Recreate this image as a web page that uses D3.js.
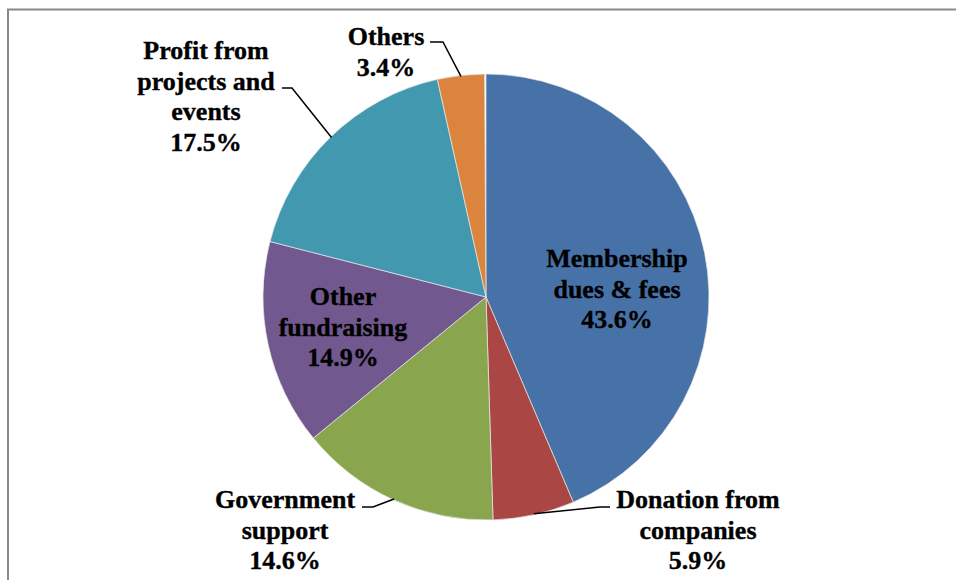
<!DOCTYPE html>
<html>
<head>
<meta charset="utf-8">
<script src="https://cdn.jsdelivr.net/npm/d3@7"></script>
<style>
  html, body { margin: 0; padding: 0; background: #fff; }
  svg { display: block; }
</style>
</head>
<body>
<svg id="chart" width="956" height="580"></svg>
<script>
// Income sources (share of total, %)
const categories = ["Membership dues & fees", "Donation from companies", "Government support",
                    "Other fundraising", "Profit from projects and events", "Others"];
const values = [43.6, 5.9, 14.6, 14.9, 17.5, 3.4];
const labelLines = [
  ["Membership", "dues & fees", "43.6%"],
  ["Donation from", "companies", "5.9%"],
  ["Government", "support", "14.6%"],
  ["Other", "fundraising", "14.9%"],
  ["Profit from", "projects and", "events", "17.5%"],
  ["Others", "3.4%"]
];
const colors = ["#4672A8", "#AA4744", "#89A64E", "#71598F", "#4198AF", "#DB843D"];

// Label block placement: center x, center y of first line; leader elbow (x1 -> x2 at y), if any
const labelLayout = [
  { x: 617, y: 258, leader: null },
  { x: 698, y: 499, leader: { x1: 610, x2: 600, y: 507 } },
  { x: 285, y: 499, leader: { x1: 362, x2: 373, y: 507 } },
  { x: 343, y: 296, leader: null },
  { x: 206, y: 50,  leader: { x1: 282, x2: 292, y: 88 } },
  { x: 386, y: 36,  leader: { x1: 430, x2: 443, y: 42 } }
];

const svg = d3.select("#chart");
const cx = 486, cy = 297, R = 223, lineH = 30.6;

// chart frame
svg.append("path")
  .attr("d", "M8,590 L8,9.5 L960,9.5")
  .attr("fill", "none").attr("stroke", "#898989").attr("stroke-width", 2);

const total = d3.sum(values);
const pie = d3.pie().sort(null).value(d => d)
  .startAngle(0).endAngle(2 * Math.PI * total / 100);
const arcs = pie(values);
const arc = d3.arc().innerRadius(0).outerRadius(R);

const g = svg.append("g").attr("transform", `translate(${cx},${cy})`);
g.selectAll("path.slice").data(arcs).join("path")
  .attr("class", "slice")
  .attr("d", arc)
  .attr("fill", (d, i) => colors[i])
  .attr("stroke", "#e8e8e8").attr("stroke-width", 0.7);

// leader lines from label elbow to the slice's outer midpoint
arcs.forEach((d, i) => {
  const L = labelLayout[i].leader;
  if (!L) return;
  const a = (d.startAngle + d.endAngle) / 2;
  const ex = cx + Math.sin(a) * (R - 1), ey = cy - Math.cos(a) * (R - 1);
  svg.append("polyline")
    .attr("points", `${L.x1},${L.y} ${L.x2},${L.y} ${ex},${ey}`)
    .attr("fill", "none").attr("stroke", "#000").attr("stroke-width", 1.5);
});

// labels
labelLines.forEach((lines, i) => {
  const p = labelLayout[i];
  const t = svg.append("text")
    .attr("text-anchor", "middle")
    .attr("font-family", "'Liberation Serif', serif")
    .attr("font-weight", "bold")
    .attr("font-size", 26)
    .attr("fill", "#000")
    .attr("stroke", "#000")
    .attr("stroke-width", 0.35);
  lines.forEach((s, k) => {
    t.append("tspan").attr("x", p.x).attr("y", p.y + 9 + k * lineH).text(s);
  });
});
</script>
</body>
</html>
